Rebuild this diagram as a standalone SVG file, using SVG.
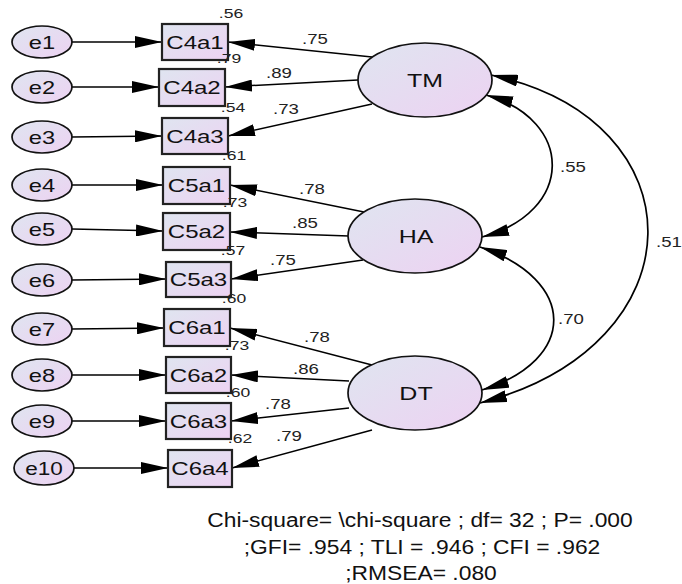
<svg xmlns="http://www.w3.org/2000/svg" width="682" height="584" viewBox="0 0 682 584">
<defs>
<linearGradient id="g" x1="0" y1="0" x2="1" y2="1">
<stop offset="0" stop-color="#dfe5f0"/>
<stop offset="1" stop-color="#edd2f2"/>
</linearGradient>
<marker id="ah" viewBox="0 0 27 12" refX="27" refY="6" markerWidth="27" markerHeight="12" markerUnits="userSpaceOnUse" orient="auto-start-reverse">
<path d="M0,0 L27,6 L0,12 z" fill="#000"/>
</marker>
<style>
.ell{fill:url(#g);stroke:#111;stroke-width:1.7}
.box{fill:url(#g);stroke:#222;stroke-width:2.2}
.ln{fill:none;stroke:#000;stroke-width:1.5;marker-end:url(#ah)}
.cv{fill:none;stroke:#000;stroke-width:1.7;marker-start:url(#ah);marker-end:url(#ah)}
text{font-family:"Liberation Sans",Arial,sans-serif;fill:#111;text-anchor:middle}
.n{font-size:18.5px}
.lv{font-size:18.5px}
.w{font-size:14px;fill:#222}
.r{font-size:13px;fill:#222}
.ft{font-size:19.5px}
</style>
</defs>
<rect width="682" height="584" fill="#fff"/>
<g id="connectors">
<path class="ln" d="M72,42 L162,42"/>
<path class="ln" d="M72,87 L159,87"/>
<path class="ln" d="M72,137 L162,136"/>
<path class="ln" d="M72,185 L163,185"/>
<path class="ln" d="M72,229 L163,231"/>
<path class="ln" d="M72,280 L166,279"/>
<path class="ln" d="M72,329 L164,328"/>
<path class="ln" d="M72,375 L166,375"/>
<path class="ln" d="M72,421 L166,421"/>
<path class="ln" d="M74,468 L168,468"/>
<path class="ln" d="M372,57 L228,42"/>
<path class="ln" d="M358,80 L225,87"/>
<path class="ln" d="M372,104 L228,136"/>
<path class="ln" d="M364,212 L230,185"/>
<path class="ln" d="M349,236 L230,232"/>
<path class="ln" d="M363,260 L231,279"/>
<path class="ln" d="M372,365 L230,328"/>
<path class="ln" d="M349,381 L231,375"/>
<path class="ln" d="M349,408 L231,421"/>
<path class="ln" d="M372,430 L232,468"/>
<path class="cv" d="M486,95 C575,120 575,212 482,237"/>
<path class="cv" d="M480,247 C578,280 578,360 482,390"/>
<path class="cv" d="M491,75 C702,120 702,345 480,403"/>
<text class="w" transform="translate(315,44) scale(1.33,1)">.75</text>
<text class="w" transform="translate(279,78) scale(1.33,1)">.89</text>
<text class="w" transform="translate(286,114) scale(1.33,1)">.73</text>
<text class="w" transform="translate(312,194) scale(1.33,1)">.78</text>
<text class="w" transform="translate(305,228) scale(1.33,1)">.85</text>
<text class="w" transform="translate(283,265) scale(1.33,1)">.75</text>
<text class="w" transform="translate(317,342) scale(1.33,1)">.78</text>
<text class="w" transform="translate(306,374) scale(1.33,1)">.86</text>
<text class="w" transform="translate(278,409) scale(1.33,1)">.78</text>
<text class="w" transform="translate(289,441) scale(1.33,1)">.79</text>
<text class="w" transform="translate(573,172) scale(1.33,1)">.55</text>
<text class="w" transform="translate(571,324) scale(1.33,1)">.70</text>
<text class="w" transform="translate(669,247) scale(1.33,1)">.51</text>
</g>
<g id="e1"><ellipse class="ell" cx="42" cy="42" rx="30" ry="16"/><text class="n" transform="translate(42,48.5) scale(1.28,1)">e1</text></g>
<g id="e2"><ellipse class="ell" cx="42" cy="87" rx="30" ry="16"/><text class="n" transform="translate(42,93.5) scale(1.28,1)">e2</text></g>
<g id="e3"><ellipse class="ell" cx="42" cy="137" rx="30" ry="16"/><text class="n" transform="translate(42,143.5) scale(1.28,1)">e3</text></g>
<g id="e4"><ellipse class="ell" cx="42" cy="185" rx="30" ry="16"/><text class="n" transform="translate(42,191.5) scale(1.28,1)">e4</text></g>
<g id="e5"><ellipse class="ell" cx="42" cy="229" rx="30" ry="16"/><text class="n" transform="translate(42,235.5) scale(1.28,1)">e5</text></g>
<g id="e6"><ellipse class="ell" cx="42" cy="280" rx="30" ry="16"/><text class="n" transform="translate(42,286.5) scale(1.28,1)">e6</text></g>
<g id="e7"><ellipse class="ell" cx="42" cy="329" rx="30" ry="16"/><text class="n" transform="translate(42,335.5) scale(1.28,1)">e7</text></g>
<g id="e8"><ellipse class="ell" cx="42" cy="375" rx="30" ry="16"/><text class="n" transform="translate(42,381.5) scale(1.28,1)">e8</text></g>
<g id="e9"><ellipse class="ell" cx="42" cy="421" rx="30" ry="16"/><text class="n" transform="translate(42,427.5) scale(1.28,1)">e9</text></g>
<g id="e10"><ellipse class="ell" cx="44" cy="468" rx="30" ry="17"/><text class="n" transform="translate(44,474.5) scale(1.22,1)">e10</text></g>
<g id="C4a1"><rect class="box" x="162" y="24" width="66" height="36"/><text class="n" transform="translate(195,48.5) scale(1.3,1)">C4a1</text><text class="r" transform="translate(231,18) scale(1.35,1)">.56</text></g>
<g id="C4a2"><rect class="box" x="159" y="69" width="66" height="37"/><text class="n" transform="translate(192,94) scale(1.3,1)">C4a2</text><text class="r" transform="translate(229,63) scale(1.35,1)">.79</text></g>
<g id="C4a3"><rect class="box" x="162" y="118" width="66" height="36"/><text class="n" transform="translate(195,142.5) scale(1.3,1)">C4a3</text><text class="r" transform="translate(233,112) scale(1.35,1)">.54</text></g>
<g id="C5a1"><rect class="box" x="163" y="167" width="67" height="37"/><text class="n" transform="translate(196.5,192) scale(1.3,1)">C5a1</text><text class="r" transform="translate(234,160) scale(1.35,1)">.61</text></g>
<g id="C5a2"><rect class="box" x="163" y="213" width="67" height="37"/><text class="n" transform="translate(196.5,238) scale(1.3,1)">C5a2</text><text class="r" transform="translate(235,207) scale(1.35,1)">.73</text></g>
<g id="C5a3"><rect class="box" x="166" y="262" width="65" height="35"/><text class="n" transform="translate(198.5,286) scale(1.3,1)">C5a3</text><text class="r" transform="translate(233,255) scale(1.35,1)">.57</text></g>
<g id="C6a1"><rect class="box" x="164" y="309" width="66" height="37"/><text class="n" transform="translate(197,334) scale(1.3,1)">C6a1</text><text class="r" transform="translate(234,303) scale(1.35,1)">.60</text></g>
<g id="C6a2"><rect class="box" x="166" y="357" width="65" height="36"/><text class="n" transform="translate(198.5,381.5) scale(1.3,1)">C6a2</text><text class="r" transform="translate(237,350) scale(1.35,1)">.73</text></g>
<g id="C6a3"><rect class="box" x="166" y="403" width="65" height="36"/><text class="n" transform="translate(198.5,427.5) scale(1.3,1)">C6a3</text><text class="r" transform="translate(238,397) scale(1.35,1)">.60</text></g>
<g id="C6a4"><rect class="box" x="168" y="450" width="64" height="37"/><text class="n" transform="translate(200,475) scale(1.3,1)">C6a4</text><text class="r" transform="translate(240,443) scale(1.35,1)">.62</text></g>
<g id="TM"><ellipse class="ell" cx="425" cy="80" rx="67" ry="37"/><text class="lv" transform="translate(425,86.5) scale(1.35,1)">TM</text></g>
<g id="HA"><ellipse class="ell" cx="415" cy="236" rx="67" ry="37"/><text class="lv" transform="translate(416,242.5) scale(1.35,1)">HA</text></g>
<g id="DT"><ellipse class="ell" cx="415" cy="393" rx="67" ry="37"/><text class="lv" transform="translate(416,400) scale(1.35,1)">DT</text></g>
<g id="fit">
<text class="ft" transform="translate(420,527) scale(1.17,1)">Chi-square= \chi-square ; df= 32 ; P= .000</text>
<text class="ft" transform="translate(422,554) scale(1.17,1)">;GFI= .954 ; TLI = .946 ; CFI = .962</text>
<text class="ft" transform="translate(421,580) scale(1.17,1)">;RMSEA= .080</text>
</g>
</svg>
